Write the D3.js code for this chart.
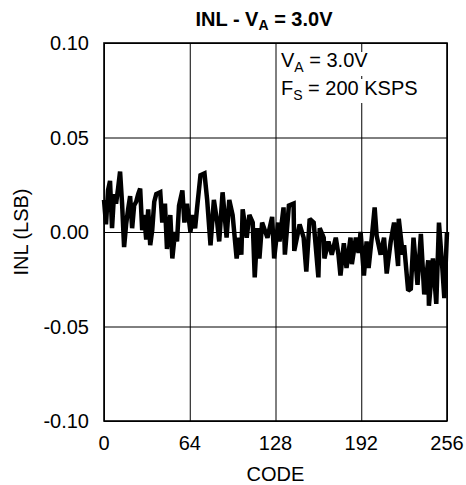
<!DOCTYPE html>
<html>
<head>
<meta charset="utf-8">
<script src="https://cdn.jsdelivr.net/npm/d3@7"></script>
<style>
  body { margin: 0; background: #fff; }
  text { font-family: "Liberation Sans", Arial, sans-serif; fill: #000; }
</style>
</head>
<body>
<div id="chart"></div>
<script>
// codes (x) and INL in LSB (y)
var codes = [0, 1.5, 3, 4.5, 6, 7.5, 9, 10.5, 12, 13.5, 15, 16.5, 18, 19.5, 21, 22.5, 24, 25.5, 27, 28.5,
  30, 31.5, 33, 34.5, 36, 37.5, 39, 42, 43.5, 45.5, 47, 49.5, 51, 53, 54.5, 56, 58.5, 60, 62, 64.5,
  66, 68, 69.5, 72, 75, 77, 79.5, 82, 84.5, 86, 88.5, 91.5, 93.5, 96, 99, 101, 102.5, 103.5, 106.5, 108.5,
  111, 112.5, 114.5, 116, 118, 122, 125.5, 127, 130, 131, 134, 135, 138, 141.5, 142, 146, 149, 151, 153.5, 156.5,
  160, 161, 164, 164.5, 167.5, 170, 173, 175, 176.5, 179, 181, 184, 185, 188, 190, 191.5, 194, 196, 197.5, 200,
  202, 203.5, 206.5, 209, 211, 214, 216.5, 219.5, 220, 223, 224, 227, 229, 231, 234, 236.5, 239, 242, 242.5, 245.5,
  248, 250, 252.5, 254, 256];
var inl = [0.017, 0.004, 0.022, 0.027, 0.002, 0.020, 0.015, 0.023, 0.032, 0.015, -0.008, 0.004, 0.012, 0.019, 0.002, 0.014, 0.016, 0.020, 0.023, 0.001,
  0.009, -0.004, 0.012, -0.007, 0.001, 0.016, 0.020, 0.021, 0.005, 0.015, -0.009, 0.009, -0.014, 0.000, -0.005, 0.014, 0.022, 0.005, 0.015, 0.000,
  0.009, 0.002, 0.013, 0.030, 0.031, 0.017, -0.007, 0.017, 0.005, -0.005, 0.021, -0.003, 0.017, 0.009, -0.014, -0.003, -0.012, 0.012, -0.003, 0.009,
  0.005, -0.024, 0.002, -0.014, 0.005, -0.003, 0.008, -0.014, 0.005, -0.005, 0.013, -0.012, 0.014, 0.015, -0.010, 0.004, -0.003, -0.021, 0.007, 0.005,
  -0.024, 0.002, -0.003, -0.014, -0.005, -0.012, -0.003, -0.012, -0.023, -0.006, -0.019, -0.003, -0.017, -0.003, -0.011, 0.000, -0.023, -0.005, -0.019, -0.002,
  0.013, -0.002, -0.012, -0.003, -0.022, -0.005, 0.005, -0.018, 0.007, -0.012, -0.007, -0.031, -0.030, -0.003, -0.028, -0.001, -0.033, -0.015, -0.039, -0.014,
  -0.038, 0.005, -0.019, -0.035, 0.000];
var xTicks = [0, 64, 128, 192, 256];
var yTicks = [-0.10, -0.05, 0.00, 0.05, 0.10];

var W = 466, H = 485;
var L = 104, R = 447, T = 43, B = 421;

var svg = d3.select("#chart").append("svg")
  .attr("width", W).attr("height", H);

var x = d3.scaleLinear().domain([0, 256]).range([L, R]);
var y = d3.scaleLinear().domain([-0.1, 0.1]).range([B, T]);

// grid
svg.append("g")
  .attr("transform", "translate(0," + B + ")")
  .call(d3.axisBottom(x).tickValues(xTicks).tickSize(-(B - T)).tickFormat(""))
  .call(function(g){ g.select(".domain").remove(); })
  .selectAll("line").attr("stroke", "#000").attr("stroke-width", 1);

svg.append("g")
  .attr("transform", "translate(" + L + ",0)")
  .call(d3.axisLeft(y).tickValues(yTicks).tickSize(-(R - L)).tickFormat(""))
  .call(function(g){ g.select(".domain").remove(); })
  .selectAll("line").attr("stroke", "#000").attr("stroke-width", 1);

// white boxes behind the note (grid shows through between the lines)
svg.append("rect").attr("x", 279).attr("y", 52).attr("width", 150).attr("height", 24).attr("fill", "#fff");
svg.append("rect").attr("x", 279).attr("y", 79).attr("width", 150).attr("height", 24).attr("fill", "#fff");

// data line
var line = d3.line()
  .x(function(d, i){ return x(codes[i]); })
  .y(function(d){ return y(d); });

svg.append("path")
  .datum(inl)
  .attr("d", line)
  .attr("fill", "none")
  .attr("stroke", "#000")
  .attr("stroke-width", 4.5)
  .attr("stroke-linejoin", "miter")
  .attr("stroke-miterlimit", 2);

// frame
svg.append("rect")
  .attr("x", L).attr("y", T).attr("width", R - L).attr("height", B - T)
  .attr("fill", "none").attr("stroke", "#000").attr("stroke-width", 1.6);

// tick labels (plain hyphen for minus, as in the original)
var fmt = function(d){ return d3.format(".2f")(d).replace("\u2212", "-"); };

svg.append("g").selectAll("text")
  .data(yTicks).enter().append("text")
  .attr("x", 89)
  .attr("y", function(d){ return y(d) + 7; })
  .attr("text-anchor", "end")
  .attr("font-size", "20px")
  .text(fmt);

svg.append("g").selectAll("text")
  .data(xTicks).enter().append("text")
  .attr("x", function(d){ return x(d); })
  .attr("y", 450)
  .attr("text-anchor", "middle")
  .attr("font-size", "20px")
  .text(function(d){ return d; });

// axis titles
svg.append("text")
  .attr("x", (L + R) / 2).attr("y", 481)
  .attr("text-anchor", "middle").attr("font-size", "20px")
  .text("CODE");

svg.append("text")
  .attr("transform", "translate(28," + ((T + B) / 2) + ") rotate(-90)")
  .attr("text-anchor", "middle").attr("font-size", "20px")
  .text("INL (LSB)");

// title
var title = svg.append("text")
  .attr("x", 264).attr("y", 26)
  .attr("text-anchor", "middle").attr("font-size", "20px").attr("font-weight", "bold");
title.append("tspan").text("INL - V");
title.append("tspan").attr("font-size", "14px").attr("dy", 4).text("A");
title.append("tspan").attr("dy", -4).text(" = 3.0V");

// note
var n1 = svg.append("text").attr("x", 281).attr("y", 67).attr("font-size", "20px");
n1.append("tspan").text("V");
n1.append("tspan").attr("font-size", "14px").attr("dy", 5).text("A");
n1.append("tspan").attr("dy", -5).text(" = 3.0V");

var n2 = svg.append("text").attr("x", 281).attr("y", 95).attr("font-size", "20px");
n2.append("tspan").text("F");
n2.append("tspan").attr("font-size", "14px").attr("dy", 5).text("S");
n2.append("tspan").attr("dy", -5).text(" = 200 KSPS");
</script>
</body>
</html>
